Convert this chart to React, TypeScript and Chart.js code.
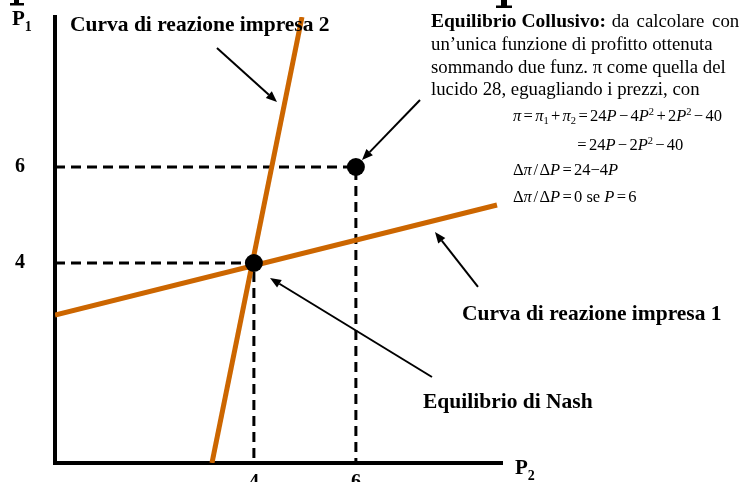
import { useEffect, useRef } from 'react';
import { Chart, registerables } from 'chart.js';

Chart.register(...registerables);

// ---- axis ranges (P2 horizontal, P1 vertical) ----
const X_MIN = 0.1;
const X_MAX = 8.865;
const Y_MIN = -0.167;
const Y_MAX = 9.125;

// ---- tick labels ----
const tickValues = [4, 6];
const tickLabels = ['4', '6'];

// ---- reaction curves (endpoints) ----
const curve1P2 = [0.1, 8.767];
const curve1P1 = [2.917, 5.208];
const curve2P2 = [3.178, 4.943];
const curve2P1 = [-0.167, 9.125];

// ---- equilibria ----
const equilibriumP2 = [4, 6]; // Nash, Collusive
const equilibriumP1 = [4, 6];

// ---- annotation arrows (data coords) ----
const arrowStartX = [3.276, 7.257, 8.394, 7.492];
const arrowStartY = [8.479, 7.396, 3.5, 1.625];
const arrowEndX = [4.453, 6.12, 7.551, 4.316];
const arrowEndY = [7.354, 6.146, 4.646, 3.687];

const ORANGE = '#cc6600';
const SERIF = '"Liberation Serif", "Times New Roman", serif';

type Seg = { t: string; f: string; dy?: number; gap?: number };

function drawRuns(ctx: CanvasRenderingContext2D, x: number, y: number, segs: Seg[]) {
  let cx = x;
  for (const s of segs) {
    ctx.font = s.f;
    cx += s.gap || 0;
    ctx.fillText(s.t, cx, y + (s.dy || 0));
    cx += ctx.measureText(s.t).width + (s.gap || 0);
  }
}

function drawArrow(ctx: CanvasRenderingContext2D, x1: number, y1: number, x2: number, y2: number) {
  const a = Math.atan2(y2 - y1, x2 - x1);
  const L = 11;
  const W = 4.5;
  const bx = x2 - L * Math.cos(a);
  const by = y2 - L * Math.sin(a);
  ctx.strokeStyle = '#000';
  ctx.lineWidth = 2;
  ctx.beginPath();
  ctx.moveTo(x1, y1);
  ctx.lineTo(bx, by);
  ctx.stroke();
  ctx.fillStyle = '#000';
  ctx.beginPath();
  ctx.moveTo(x2, y2);
  ctx.lineTo(bx + W * Math.sin(a), by - W * Math.cos(a));
  ctx.lineTo(bx - W * Math.sin(a), by + W * Math.cos(a));
  ctx.closePath();
  ctx.fill();
}

const annotationPlugin = {
  id: 'annotations',
  afterDraw(chart: any) {
    const ctx: CanvasRenderingContext2D = chart.ctx;
    const xs = chart.scales.x;
    const ys = chart.scales.y;
    ctx.save();
    // arrows
    for (let i = 0; i < arrowStartX.length; i++) {
      drawArrow(
        ctx,
        xs.getPixelForValue(arrowStartX[i]),
        ys.getPixelForValue(arrowStartY[i]),
        xs.getPixelForValue(arrowEndX[i]),
        ys.getPixelForValue(arrowEndY[i])
      );
    }
    ctx.fillStyle = '#000';
    // clipped remnants of the slide title at the very top edge
    ctx.fillRect(14, 0, 5, 4);
    ctx.fillRect(10, 3, 14, 2.5);
    ctx.fillRect(501, 0, 6, 6);
    ctx.fillRect(496, 5.5, 16, 2.5);

    ctx.textBaseline = 'alphabetic';
    ctx.textAlign = 'left';
    const B21 = `bold 21.5px ${SERIF}`;
    const B14 = `bold 14px ${SERIF}`;
    // axis titles
    drawRuns(ctx, 12, 25, [{ t: 'P', f: `bold 21px ${SERIF}` }, { t: '1', f: B14, dy: 6 }]);
    drawRuns(ctx, 515, 474, [{ t: 'P', f: `bold 21px ${SERIF}` }, { t: '2', f: B14, dy: 6 }]);
    // curve labels
    drawRuns(ctx, 70, 31, [{ t: 'Curva di reazione impresa 2', f: B21 }]);
    drawRuns(ctx, 462, 320, [{ t: 'Curva di reazione impresa 1', f: B21 }]);
    drawRuns(ctx, 423, 408, [{ t: 'Equilibrio di Nash', f: B21 }]);
    // collusive block
    const B19 = `bold 19.5px ${SERIF}`;
    const R19 = `18.8px ${SERIF}`;
    drawRuns(ctx, 431, 27, [
      { t: 'Equilibrio Collusivo:', f: B19 },
      { t: ' da', f: R19, gap: 1 },
      { t: ' calcolare', f: R19, gap: 1.5 },
      { t: ' con', f: R19, gap: 1.5 },
    ]);
    drawRuns(ctx, 431, 50, [{ t: 'un’unica funzione di profitto ottenuta', f: R19 }]);
    drawRuns(ctx, 431, 73, [{ t: 'sommando due funz. π come quella del', f: R19 }]);
    drawRuns(ctx, 431, 95, [{ t: 'lucido 28, eguagliando i prezzi, con', f: R19 }]);
    // equations
    const R = `16.5px ${SERIF}`;
    const I = `italic 16.5px ${SERIF}`;
    const S = `10.5px ${SERIF}`;
    const g = 2.3;
    drawRuns(ctx, 513, 121, [
      { t: 'π', f: I },
      { t: '=', f: R, gap: g },
      { t: 'π', f: I },
      { t: '1', f: S, dy: 3 },
      { t: '+', f: R, gap: g },
      { t: 'π', f: I },
      { t: '2', f: S, dy: 3 },
      { t: '=', f: R, gap: g },
      { t: '24', f: R },
      { t: 'P', f: I },
      { t: '−', f: R, gap: g },
      { t: '4', f: R },
      { t: 'P', f: I },
      { t: '2', f: S, dy: -6 },
      { t: '+', f: R, gap: g },
      { t: '2', f: R },
      { t: 'P', f: I },
      { t: '2', f: S, dy: -6 },
      { t: '−', f: R, gap: g },
      { t: '40', f: R },
    ]);
    drawRuns(ctx, 575, 150, [
      { t: '=', f: R, gap: g },
      { t: '24', f: R },
      { t: 'P', f: I },
      { t: '−', f: R, gap: g },
      { t: '2', f: R },
      { t: 'P', f: I },
      { t: '2', f: S, dy: -6 },
      { t: '−', f: R, gap: g },
      { t: '40', f: R },
    ]);
    drawRuns(ctx, 513, 175, [
      { t: 'Δ', f: R },
      { t: 'π', f: I },
      { t: '/', f: R, gap: 1.5 },
      { t: 'Δ', f: R },
      { t: 'P', f: I },
      { t: '=', f: R, gap: g },
      { t: '24', f: R },
      { t: '−', f: R },
      { t: '4', f: R },
      { t: 'P', f: I },
    ]);
    drawRuns(ctx, 513, 202, [
      { t: 'Δ', f: R },
      { t: 'π', f: I },
      { t: '/', f: R, gap: 1.5 },
      { t: 'Δ', f: R },
      { t: 'P', f: I },
      { t: '=', f: R, gap: g },
      { t: '0 se ', f: R },
      { t: 'P', f: I },
      { t: '=', f: R, gap: g },
      { t: '6', f: R },
    ]);
    ctx.restore();
  },
};

export default function App() {
  const ref = useRef<HTMLCanvasElement | null>(null);

  useEffect(() => {
    if (!ref.current) return;
    const pts = (xs: number[], ys: number[]) => xs.map((x, i) => ({ x, y: ys[i] }));
    const dashed = (v: number) => [
      { x: X_MIN, y: v },
      { x: v, y: v },
      { x: v, y: Y_MIN },
    ];
    const tickFont = { family: SERIF, size: 20, weight: 'bold' };
    const chart = new Chart(ref.current, {
      type: 'scatter',
      data: {
        datasets: [
          {
            label: 'Equilibri',
            data: pts(equilibriumP2, equilibriumP1),
            pointRadius: 9,
            pointBackgroundColor: '#000',
            pointBorderColor: '#000',
            pointBorderWidth: 0,
            showLine: false,
            order: 0,
          },
          {
            label: 'Curva di reazione impresa 2',
            data: pts(curve2P2, curve2P1),
            showLine: true,
            borderColor: ORANGE,
            borderWidth: 5,
            pointRadius: 0,
            order: 1,
          },
          {
            label: 'Curva di reazione impresa 1',
            data: pts(curve1P2, curve1P1),
            showLine: true,
            borderColor: ORANGE,
            borderWidth: 5,
            pointRadius: 0,
            order: 1,
          },
          {
            label: 'Nash',
            data: dashed(equilibriumP2[0]),
            showLine: true,
            borderColor: '#000',
            borderWidth: 3,
            borderDash: [10, 6],
            pointRadius: 0,
            order: 2,
          },
          {
            label: 'Collusivo',
            data: dashed(equilibriumP2[1]),
            showLine: true,
            borderColor: '#000',
            borderWidth: 3,
            borderDash: [10, 6],
            pointRadius: 0,
            order: 2,
          },
        ],
      },
      options: {
        responsive: false,
        animation: false,
        events: [],
        layout: { padding: { left: 0, top: 17, right: 250, bottom: 0 } },
        plugins: { legend: { display: false }, tooltip: { enabled: false } },
        scales: {
          x: {
            type: 'linear',
            min: X_MIN,
            max: X_MAX,
            grid: { display: false, drawTicks: false, tickLength: 0 },
            border: { display: true, color: '#000', width: 4 },
            afterBuildTicks: (s: any) => {
              s.ticks = tickValues.map((v) => ({ value: v }));
            },
            afterFit: (s: any) => {
              s.height = 19;
              s.paddingLeft = 0;
              s.paddingRight = 0;
            },
            ticks: {
              color: '#000',
              padding: 8,
              autoSkip: false,
              maxRotation: 0,
              font: tickFont,
              callback: (v: any) => tickLabels[tickValues.indexOf(Number(v))] ?? '',
            },
          },
          y: {
            type: 'linear',
            min: Y_MIN,
            max: Y_MAX,
            grid: { display: false, drawTicks: false, tickLength: 0 },
            border: { display: true, color: '#000', width: 4 },
            afterBuildTicks: (s: any) => {
              s.ticks = tickValues.map((v) => ({ value: v }));
            },
            afterFit: (s: any) => {
              s.width = 55;
              s.paddingTop = 0;
              s.paddingBottom = 0;
            },
            ticks: {
              color: '#000',
              padding: 30,
              autoSkip: false,
              font: tickFont,
              callback: (v: any) => tickLabels[tickValues.indexOf(Number(v))] ?? '',
            },
          },
        },
      },
      plugins: [annotationPlugin],
    } as any);
    return () => chart.destroy();
  }, []);

  return (
    <div style={{ position: 'fixed', left: 0, top: 0, width: 752, height: 482, background: '#fff' }}>
      <canvas ref={ref} width={752} height={482} style={{ display: 'block', width: 752, height: 482 }} />
    </div>
  );
}
